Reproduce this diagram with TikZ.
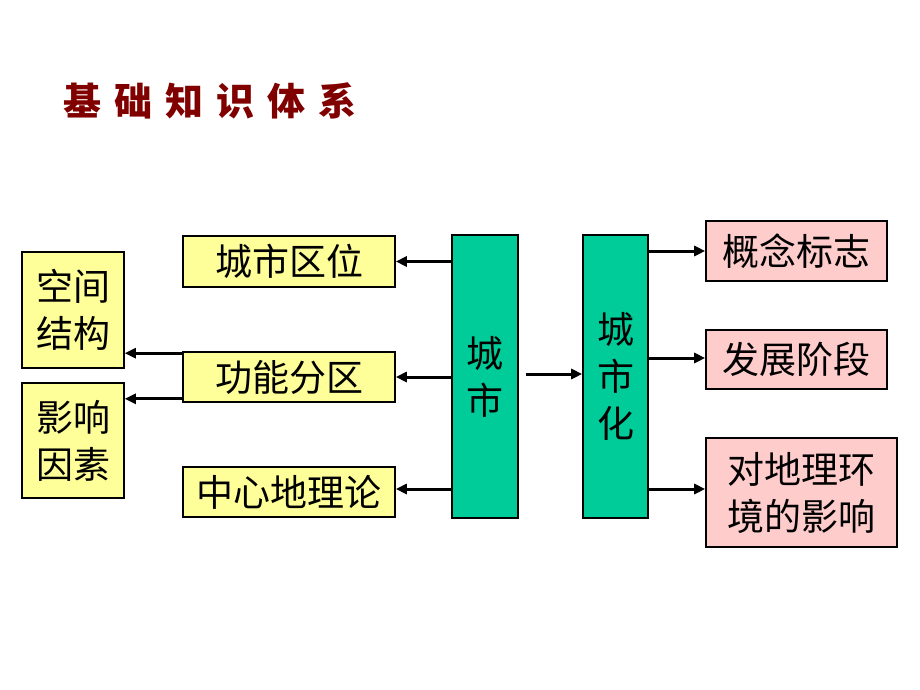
\documentclass[tikz,border=0pt]{standalone}
\usepackage{fontspec}
\usetikzlibrary{arrows.meta}
\newfontfamily\cjk{Noto Sans CJK SC}
\newfontfamily\cjkb{Noto Sans CJK SC Black}
\definecolor{boxyellow}{HTML}{FFFF99}
\definecolor{boxgreen}{HTML}{00CC99}
\definecolor{boxpink}{HTML}{FFCCCC}
\definecolor{titlered}{HTML}{800000}
\newcommand{\tsp}{\hspace{13pt}}
\begin{document}
\begin{tikzpicture}[x=1pt,y=-1pt,
  base/.style={draw=black,line width=1.6pt,inner sep=0pt,align=center,
    font=\cjk\fontsize{37}{47}\selectfont},
  ybox/.style={base,fill=boxyellow},
  gbox/.style={base,fill=boxgreen},
  pbox/.style={base,fill=boxpink},
  arr/.style={line width=3pt,-{Triangle[length=11pt,width=10pt]}}]
\useasboundingbox (0,0) rectangle (920,690);
\node[anchor=west,text=titlered,font=\cjkb\fontsize{38}{40}\selectfont,inner sep=0pt]
  (title) at (63,101) {基\tsp 础\tsp 知\tsp 识\tsp 体\tsp 系};
% yellow middle column
\node[ybox,minimum width=212pt,minimum height=51pt] (qw) at (289,261.5) {城市区位};
\node[ybox,minimum width=212pt,minimum height=50pt] (gn) at (289,377) {功能分区};
\node[ybox,minimum width=212pt,minimum height=50pt] (zx) at (289,492) {中心地理论};
% yellow left column
\node[ybox,minimum width=102pt,minimum height=116pt] (kj) at (73,310) {空间\\结构};
\node[ybox,minimum width=102pt,minimum height=115pt] (yx) at (73,440.5) {影响\\因素};
% green
\node[gbox,minimum width=66pt,minimum height=283pt] (cs) at (485,376.5) {城\\市};
\node[gbox,minimum width=65pt,minimum height=283pt] (csh) at (615.5,376.5) {城\\市\\化};
% pink
\node[pbox,minimum width=181pt,minimum height=60pt] (gl) at (796.5,251) {概念标志};
\node[pbox,minimum width=181pt,minimum height=59pt] (fz) at (796.5,359.5) {发展阶段};
\node[pbox,minimum width=191pt,minimum height=109pt] (dl) at (801.5,492.5) {对地理环\\境的影响};
% arrows
\draw[arr] (cs.west |- qw.east) -- (qw.east);
\draw[arr] (cs.west |- gn.east) -- (gn.east);
\draw[arr] ([yshift=3pt]cs.west |- zx.east) -- ([yshift=3pt]zx.east);
\draw[arr] ([yshift=-2pt]gn.north west) coordinate (a1) -- (a1 -| kj.east);
\draw[arr] ([yshift=4pt]gn.south west) coordinate (a2) -- (a2 -| yx.east);
\draw[arr] ([xshift=7pt,yshift=2.5pt]cs.east) -- ([yshift=2.5pt]csh.west);
\draw[arr] (csh.east |- gl.west) -- (gl.west);
\draw[arr] ([yshift=1.5pt]csh.east |- fz.west) -- ([yshift=1.5pt]fz.west);
\draw[arr] ([yshift=3.5pt]csh.east |- dl.west) -- ([yshift=3.5pt]dl.west);
\end{tikzpicture}
\end{document}
